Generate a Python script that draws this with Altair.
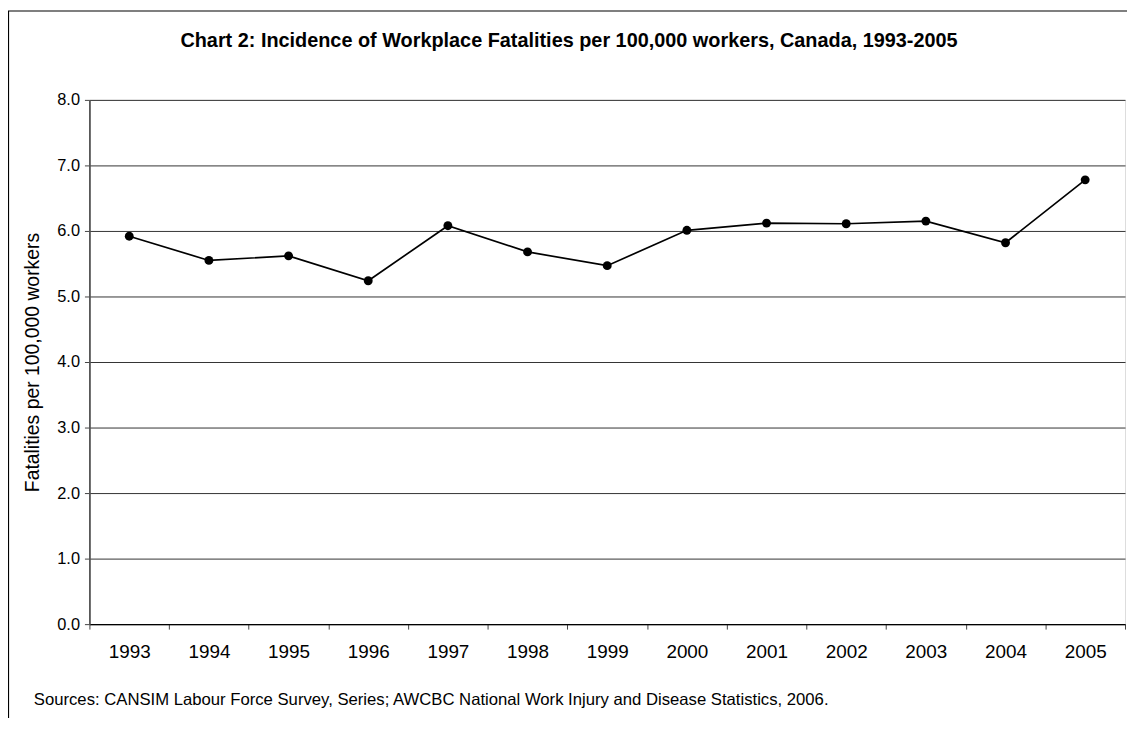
import altair as alt
import pandas as pd

years = ["1993", "1994", "1995", "1996", "1997", "1998", "1999",
         "2000", "2001", "2002", "2003", "2004", "2005"]
rates = [5.92, 5.55, 5.62, 5.24, 6.08, 5.68, 5.47, 6.01, 6.12, 6.11, 6.15, 5.82, 6.78]
y_ticks = [0, 1, 2, 3, 4, 5, 6, 7, 8]

title_text = "Chart 2: Incidence of Workplace Fatalities per 100,000 workers, Canada, 1993-2005"
source_text = ("Sources: CANSIM Labour Force Survey, Series; AWCBC National Work Injury "
               "and Disease Statistics, 2006.")
y_title = "Fatalities per 100,000 workers"

W, H = 1043, 528
FONT = "Liberation Sans"

df = pd.DataFrame({"year": years, "rate": rates})

x_enc = alt.X(
    "year:O",
    sort=years,
    scale=alt.Scale(type="band", paddingInner=0, paddingOuter=0),
    axis=alt.Axis(
        title=None, labelAngle=0, tickBand="extent", tickSize=5,
        tickColor="#444", domainColor="#000", domainWidth=1.2,
        labelFontSize=19, labelColor="#000", labelFont=FONT,
        labelBaseline="alphabetic", labelPadding=29, grid=False,
    ),
)
y_enc = alt.Y(
    "rate:Q",
    scale=alt.Scale(domain=[0, 8], nice=False, zero=True),
    axis=alt.Axis(
        values=y_ticks, format=".1f", title=y_title,
        titleFontSize=19.5, titleFontWeight="normal", titleColor="#000",
        titleFont=FONT, titleX=-57, titleY=H / 2, titleAngle=-90,
        titleAlign="center", titleBaseline="middle",
        labelFontSize=16.5, labelColor="#000", labelFont=FONT, labelPadding=5,
        tickSize=5, tickColor="#444", domainColor="#555", domainWidth=1.8,
        grid=True, gridColor="#333", gridWidth=1,
    ),
)

base = alt.Chart(df)
line = base.mark_line(color="#000", strokeWidth=1.7).encode(x=x_enc, y=y_enc)
pts = base.mark_point(filled=True, color="#000", size=80, opacity=1).encode(x=x_enc, y=y_enc)

one = pd.DataFrame({"t": [title_text], "s": [source_text]})
frame = alt.Chart(one).mark_rect(fill=None, stroke="#000", strokeWidth=1.2).encode(
    x=alt.value(-81.5), x2=alt.value(W + 40), y=alt.value(-89.5), y2=alt.value(H + 200)
)
title = alt.Chart(one).mark_text(
    font=FONT, fontSize=20, fontWeight="bold", color="#000",
    align="center", baseline="alphabetic",
).encode(text="t:N", x=alt.value(483), y=alt.value(-53.5))
source = alt.Chart(one).mark_text(
    font=FONT, fontSize=16.8, color="#000", align="left", baseline="alphabetic",
).encode(text="s:N", x=alt.value(-56), y=alt.value(609.5))

chart = alt.layer(frame, line, pts, title, source).properties(
    width=W, height=H,
    autosize=alt.AutoSizeParams(type="none"),
    padding={"left": 82, "top": 90, "right": 2, "bottom": 92},
).configure_view(stroke="#444", strokeWidth=1.2).configure(font=FONT)

chart.save("out.html", embed_options={"renderer": "svg", "actions": False})
